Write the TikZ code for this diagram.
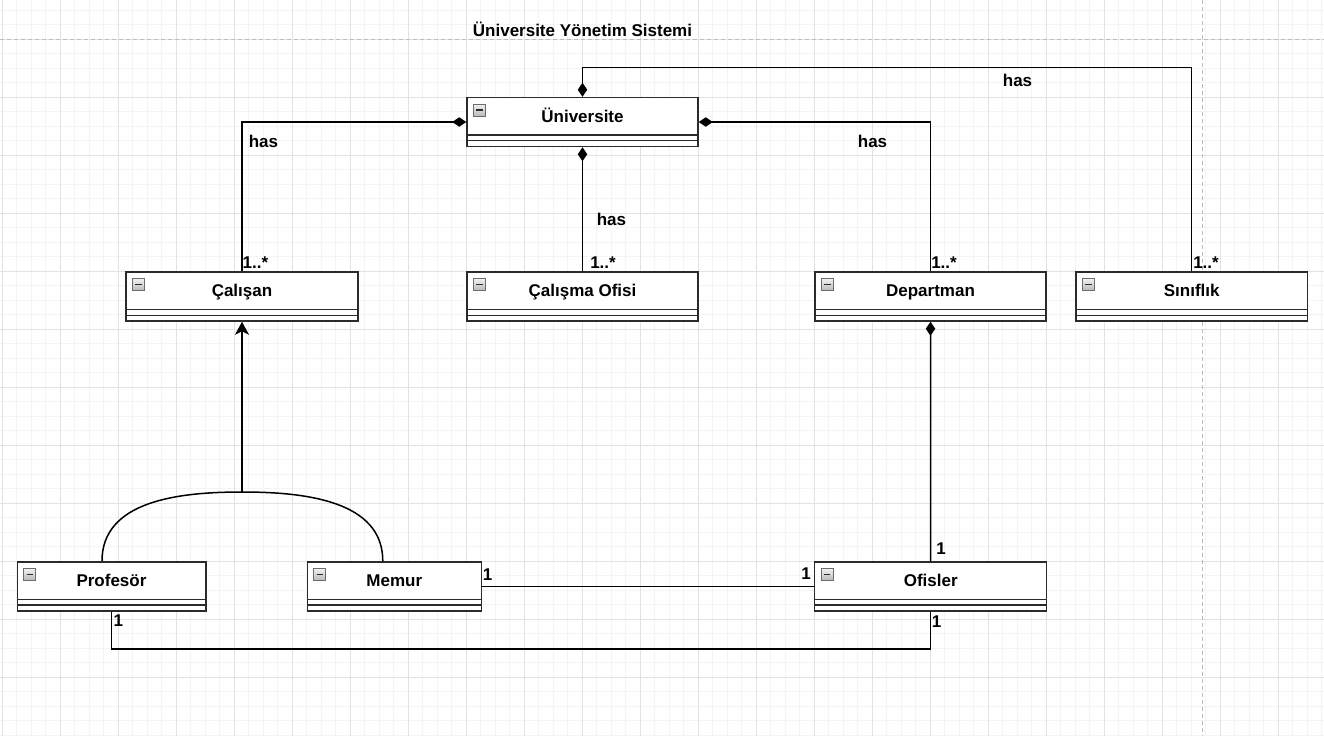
\documentclass[tikz,border=0pt]{standalone}
\usepackage{fontspec}
\setmainfont{Liberation Sans}
\usetikzlibrary{arrows.meta}
\definecolor{gridmin}{HTML}{F4F4F4}
\definecolor{gridmaj}{HTML}{E2E2E2}
\definecolor{pagedash}{HTML}{BDBDBD}
\definecolor{boxline}{HTML}{2B2B2B}
\begin{document}
\begin{tikzpicture}[x=1pt,y=-1pt,
  cls/.style={draw=boxline, line width=1.5pt, fill=white, minimum height=49pt, inner sep=0pt,
    font=\bfseries\fontsize{17}{20}\selectfont, text height=11pt, text depth=11pt,
    path picture={
      \draw[boxline, line width=1.3pt] ([yshift=-37.5pt]path picture bounding box.north west) -- ([yshift=-37.5pt]path picture bounding box.north east);
      \draw[boxline, line width=1.3pt] ([yshift=-43.3pt]path picture bounding box.north west) -- ([yshift=-43.3pt]path picture bounding box.north east);
      \shadedraw[top color=gray!10, bottom color=gray!55, draw=gray!85!black, line width=0.8pt] ([xshift=6.5pt,yshift=-6.5pt]path picture bounding box.north west) rectangle ++(12pt,-12pt);
      \draw[boxline, line width=1.6pt] ([xshift=9.3pt,yshift=-12.5pt]path picture bounding box.north west) -- ++(6.4pt,0pt);
    }},
  conn/.style={draw=black, line width=1.5pt},
  compo/.style={conn, -{Diamond[length=14pt,width=9.5pt]}},
  gen/.style={conn, -{Stealth[length=13pt,width=14pt,inset=3.5pt]}},
  lbl/.style={font=\bfseries\fontsize{17}{20}\selectfont, inner sep=0pt, anchor=base},
  gmin/.style={draw=gridmin, line width=0.8pt},
  gmaj/.style={draw=gridmaj, line width=0.8pt},
  pdash/.style={draw=pagedash, line width=0.8pt, dash pattern=on 4pt off 3pt}
]
\useasboundingbox (0,0) rectangle (1324,736);
\fill[white] (0,0) rectangle (1324,736);
% grid
\foreach \i in {0,...,91} \draw[gmin] ({2+14.5*\i},0) -- ({2+14.5*\i},736);
\foreach \j in {0,...,50} \draw[gmin] (0,{10+14.5*\j}) -- (1324,{10+14.5*\j});
\foreach \i in {0,...,22} \draw[gmaj] ({2+58*\i},0) -- ({2+58*\i},736);
\foreach \j in {0,...,11} \draw[gmaj] (0,{39+58*\j}) -- (1324,{39+58*\j});
\draw[pdash] (0,39.5) -- (1324,39.5);
\draw[pdash] (1202.5,0) -- (1202.5,736);

% title
\node[lbl] (title) at (582.5,36) {Üniversite Yönetim Sistemi};

% classes
\node[cls, minimum width=231pt] (uni) at (582.5,122) {Üniversite};
\node[cls, minimum width=232pt] (cal) at (242,296.5) {Çalışan};
\node[cls, minimum width=231pt] (calo) at (582.5,296.5) {Çalışma Ofisi};
\node[cls, minimum width=231pt] (dep) at (930.5,296.5) {Departman};
\node[cls, minimum width=231.5pt] (sin) at (1191.7,296.5) {Sınıflık};
\node[cls, minimum width=188.5pt] (pro) at (111.5,586.3) {Profesör};
\node[cls, minimum width=174pt] (mem) at (394.3,586.3) {Memur};
\node[cls, minimum width=232pt] (ofi) at (930.7,586.3) {Ofisler};

% connectors
\draw[compo] (cal.north) |- (uni.west);
\draw[compo] (calo.north) -- (uni.south);
\draw[compo] (dep.north) |- (uni.east);
\draw[compo] (sin.north) |- ([yshift=29.5pt]uni.north) -- (uni.north);
\draw[compo] (ofi.north) -- (dep.south);
\draw[conn] (mem.east) -- (ofi.west);
\draw[conn] (pro.south) -- ([yshift=-37.5pt]pro.south) -| (ofi.south);
\coordinate (gj) at (242,492);
\draw[conn] ([xshift=-9.5pt]pro.north) .. controls +(0,-60) and +(-64,0) .. (gj);
\draw[conn] ([xshift=-11.5pt]mem.north) .. controls +(0,-60) and +(64,0) .. (gj);
\draw[gen] (gj) -- (cal.south);

% labels
\node[lbl] (h1) at (263.5,147) {has};
\node[lbl] (h2) at (611.5,225) {has};
\node[lbl] (h3) at (872.5,147) {has};
\node[lbl] (h4) at (1017.5,86) {has};
\node[lbl] (m1) at (255.5,268) {1..*};
\node[lbl] (m2) at (603,268) {1..*};
\node[lbl] (m3) at (944,268) {1..*};
\node[lbl] (m4) at (1206,268) {1..*};
\node[lbl] (o1) at (941,554) {1};
\node[lbl] (o2) at (487.5,580) {1};
\node[lbl] (o3) at (806,579) {1};
\node[lbl] (o4) at (118.3,626) {1};
\node[lbl] (o5) at (936.7,627) {1};
\end{tikzpicture}
\end{document}
